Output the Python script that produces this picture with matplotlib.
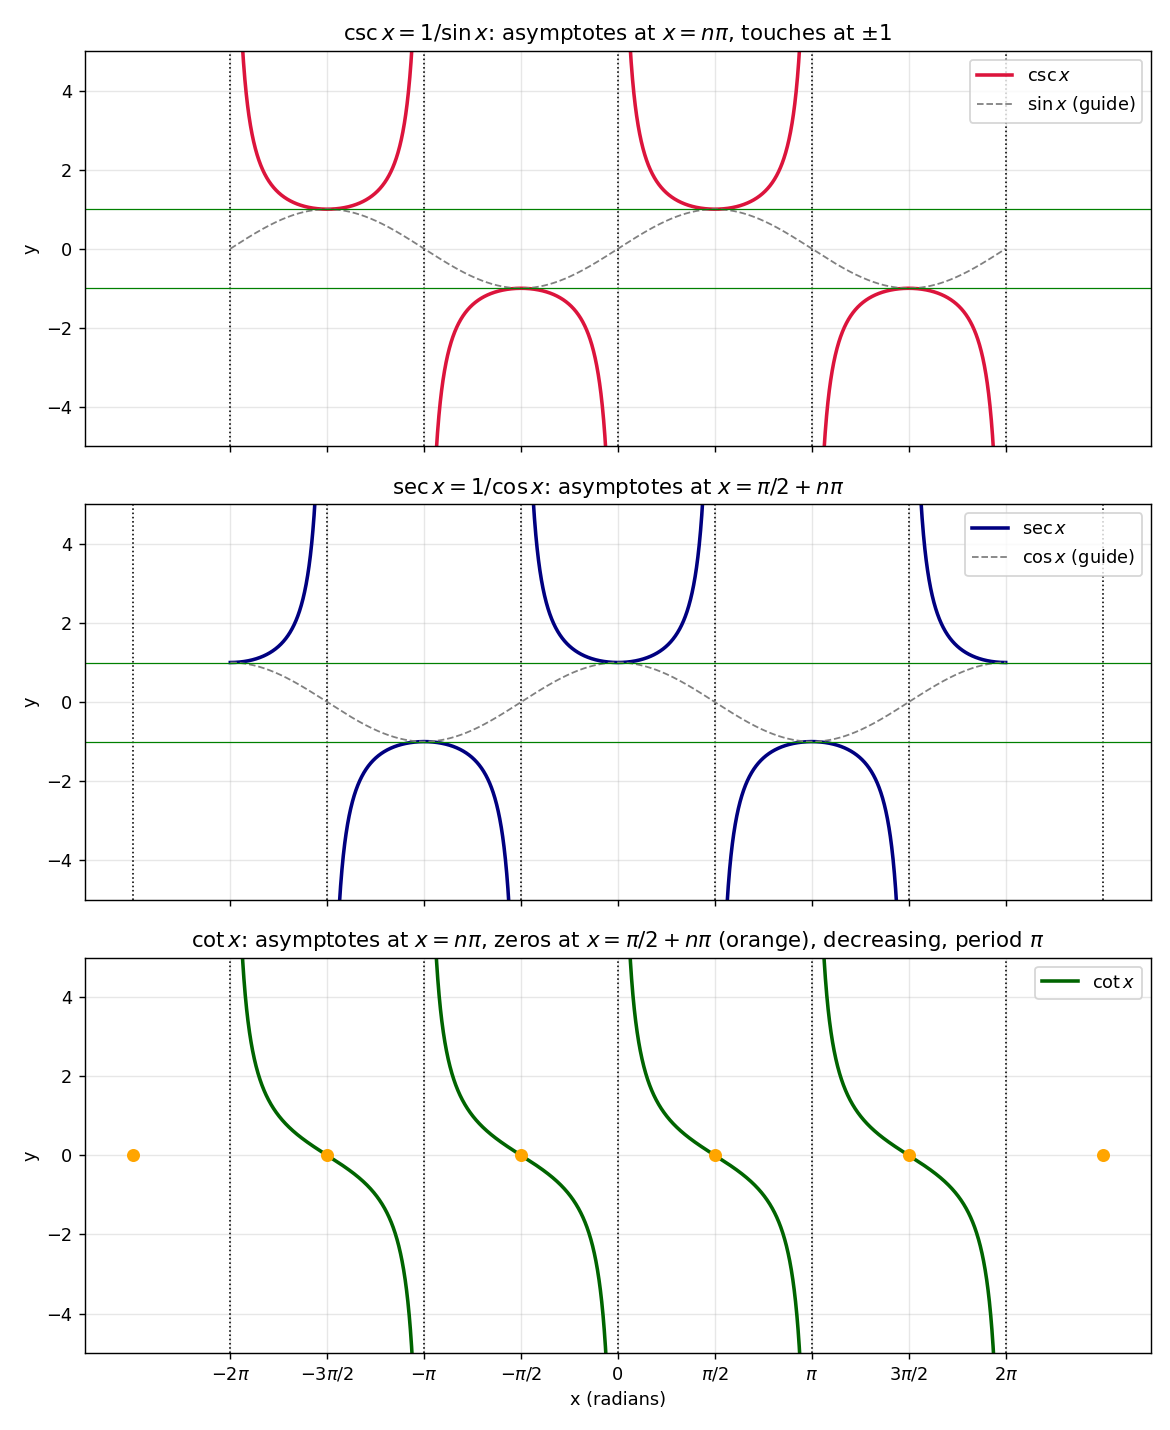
import numpy as np
import matplotlib.pyplot as plt

# --- data ---
x_start, x_end = -2 * np.pi, 2 * np.pi
csc_asym = [-2 * np.pi, -np.pi, 0, np.pi, 2 * np.pi]
sec_asym = [-5 * np.pi / 2, -3 * np.pi / 2, -np.pi / 2, np.pi / 2, 3 * np.pi / 2, 5 * np.pi / 2]
cot_asym = [-2 * np.pi, -np.pi, 0, np.pi, 2 * np.pi]
cot_zeros = [-5 * np.pi / 2, -3 * np.pi / 2, -np.pi / 2, np.pi / 2, 3 * np.pi / 2, 5 * np.pi / 2]
tick_pos = [k * np.pi / 2 for k in range(-4, 5)]
tick_labels = [r'$-2\pi$', r'$-3\pi/2$', r'$-\pi$', r'$-\pi/2$', '0',
               r'$\pi/2$', r'$\pi$', r'$3\pi/2$', r'$2\pi$']

x = np.linspace(x_start, x_end, 4001)


def masked(y, lim=12):
    y = np.array(y, dtype=float)
    y[np.abs(y) > lim] = np.nan
    return y


with np.errstate(divide='ignore', invalid='ignore'):
    csc = masked(1 / np.sin(x))
    sec = masked(1 / np.cos(x))
    cot = masked(np.cos(x) / np.sin(x))

DPI = 128
fig, axes = plt.subplots(3, 1, figsize=(1170 / DPI, 1430 / DPI), dpi=DPI, sharex=True)
fig.subplots_adjust(left=0.0726, right=0.9838, top=0.9643, bottom=0.0538, hspace=0.1465)

# csc
ax = axes[0]
ax.plot(x, csc, color='crimson', lw=2, label=r'$\csc x$')
ax.plot(x, np.sin(x), color='gray', lw=1, ls='--', label=r'$\sin x$ (guide)')
for a in csc_asym:
    ax.axvline(a, color='black', ls=':', lw=0.9)
ax.axhline(1, color='green', lw=0.7)
ax.axhline(-1, color='green', lw=0.7)
ax.set_title(r'$\csc x = 1/\sin x$: asymptotes at $x = n\pi$, touches at $\pm1$')
ax.legend(loc='upper right')

# sec
ax = axes[1]
ax.plot(x, sec, color='navy', lw=2, label=r'$\sec x$')
ax.plot(x, np.cos(x), color='gray', lw=1, ls='--', label=r'$\cos x$ (guide)')
for a in sec_asym:
    ax.axvline(a, color='black', ls=':', lw=0.9)
ax.axhline(1, color='green', lw=0.7)
ax.axhline(-1, color='green', lw=0.7)
ax.set_title(r'$\sec x = 1/\cos x$: asymptotes at $x = \pi/2 + n\pi$')
ax.legend(loc='upper right')

# cot
ax = axes[2]
ax.plot(x, cot, color='darkgreen', lw=2, label=r'$\cot x$')
for a in cot_asym:
    ax.axvline(a, color='black', ls=':', lw=0.9)
ax.scatter(cot_zeros, np.zeros(len(cot_zeros)), color='orange', s=40, zorder=3)
ax.set_title(r'$\cot x$: asymptotes at $x = n\pi$, zeros at $x = \pi/2 + n\pi$ (orange), decreasing, period $\pi$')
ax.legend(loc='upper right')
ax.set_xlabel('x (radians)')

for ax in axes:
    ax.set_ylim(-5, 5)
    ax.set_ylabel('y')
    ax.grid(True, alpha=0.3)
    ax.set_xticks(tick_pos)
    ax.set_xticklabels(tick_labels)

axes[2].set_xlim(-2.75 * np.pi, 2.75 * np.pi)

fig.savefig('out.png', dpi=DPI)
